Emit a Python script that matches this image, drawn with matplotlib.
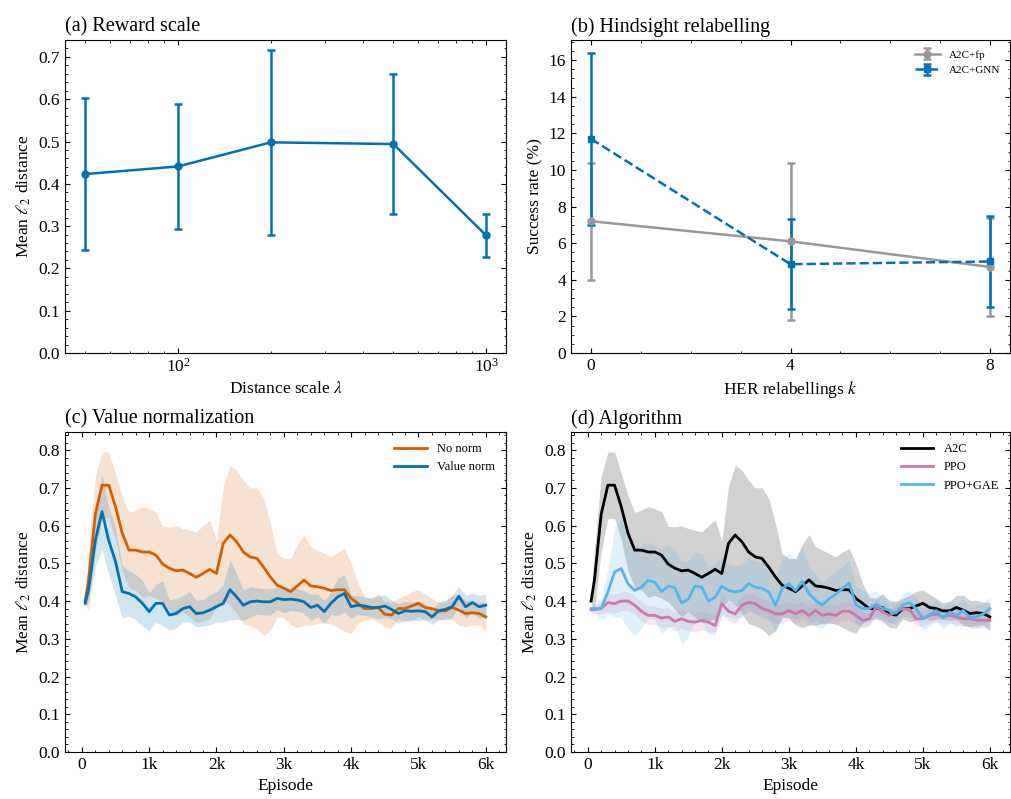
import matplotlib

matplotlib.use("Agg")
import matplotlib.pyplot as plt
import numpy as np
from matplotlib.ticker import AutoMinorLocator, FuncFormatter, MultipleLocator

plt.rcParams.update({
    "font.family": ["Liberation Serif", "DejaVu Serif"],
    "mathtext.fontset": "stix",
    "font.size": 12.5,
    "xtick.direction": "in",
    "ytick.direction": "in",
    "xtick.top": True,
    "ytick.right": True,
    "xtick.minor.visible": True,
    "ytick.minor.visible": True,
    "xtick.major.size": 3.5,
    "ytick.major.size": 3.5,
    "xtick.minor.size": 1.8,
    "ytick.minor.size": 1.8,
    "axes.linewidth": 0.8,
})

BLUE = "#0072B2"
ORANGE = "#D55E00"
PINK = "#CC79A7"
SKY = "#56B4E9"
GRAY = "#999999"

# (a) reward scale
lam = [50, 100, 200, 500, 1000]
lam_mean = [0.423, 0.441, 0.498, 0.494, 0.278]
lam_err = [0.180, 0.148, 0.218, 0.166, 0.050]

# (b) hindsight relabelling
her_k = [0, 4, 8]
fp_mean = [7.2, 6.1, 4.7]
fp_err = [3.2, 4.3, 2.7]
gnn_mean = [11.7, 4.85, 5.0]
gnn_err = [4.7, 2.45, 2.5]

# (c)/(d) learning curves, mean and std per 100 episodes
episodes = np.r_[50, np.arange(100, 6001, 100)]

no_norm_mean = [
    0.400, 0.456, 0.630, 0.707, 0.707, 0.650, 0.580, 0.535, 0.535, 0.530, 0.530,
    0.522, 0.498, 0.487, 0.480, 0.482, 0.473, 0.463, 0.473, 0.484, 0.473,
    0.553, 0.575, 0.557, 0.530, 0.517, 0.513, 0.490, 0.464, 0.442, 0.434,
    0.425, 0.440, 0.456, 0.440, 0.438, 0.434, 0.428, 0.430, 0.430, 0.407,
    0.394, 0.380, 0.380, 0.383, 0.365, 0.363, 0.380, 0.380, 0.387, 0.394,
    0.383, 0.380, 0.374, 0.374, 0.383, 0.376, 0.367, 0.369, 0.367, 0.358,
]
no_norm_std = [
    0.005, 0.080, 0.100, 0.088, 0.088, 0.088, 0.100, 0.100, 0.106, 0.120, 0.115,
    0.115, 0.100, 0.110, 0.120, 0.110, 0.115, 0.120, 0.127, 0.131, 0.087,
    0.150, 0.185, 0.190, 0.190, 0.183, 0.187, 0.182, 0.142, 0.084, 0.079,
    0.088, 0.110, 0.120, 0.104, 0.097, 0.092, 0.089, 0.100, 0.110, 0.093,
    0.053, 0.030, 0.027, 0.037, 0.035, 0.035, 0.027, 0.035, 0.038, 0.036,
    0.035, 0.027, 0.022, 0.025, 0.032, 0.040, 0.035, 0.033, 0.030, 0.038,
]
value_norm_mean = [
    0.394, 0.430, 0.560, 0.637, 0.560, 0.505, 0.425, 0.420, 0.411, 0.394, 0.372,
    0.394, 0.394, 0.363, 0.367, 0.380, 0.385, 0.367, 0.369, 0.376, 0.385,
    0.394, 0.430, 0.411, 0.389, 0.398, 0.400, 0.398, 0.398, 0.407, 0.404,
    0.405, 0.403, 0.398, 0.383, 0.389, 0.372, 0.394, 0.411, 0.420, 0.385,
    0.389, 0.387, 0.383, 0.383, 0.387, 0.378, 0.367, 0.374, 0.373, 0.374,
    0.372, 0.358, 0.374, 0.378, 0.385, 0.413, 0.385, 0.396, 0.385, 0.389,
]
value_norm_std = [
    0.010, 0.030, 0.070, 0.100, 0.090, 0.090, 0.070, 0.060, 0.060, 0.060, 0.050,
    0.050, 0.060, 0.040, 0.040, 0.035, 0.040, 0.035, 0.035, 0.040, 0.040,
    0.050, 0.080, 0.060, 0.040, 0.040, 0.035, 0.035, 0.035, 0.030, 0.035,
    0.030, 0.030, 0.030, 0.035, 0.030, 0.030, 0.030, 0.050, 0.050, 0.030,
    0.025, 0.025, 0.025, 0.030, 0.030, 0.025, 0.025, 0.025, 0.025, 0.025,
    0.020, 0.020, 0.025, 0.025, 0.030, 0.025, 0.030, 0.025, 0.030, 0.030,
]
a2c_mean = no_norm_mean
a2c_std = no_norm_std
ppo_mean = [
    0.377, 0.377, 0.380, 0.396, 0.393, 0.400, 0.400, 0.389, 0.373, 0.362, 0.362,
    0.355, 0.358, 0.346, 0.353, 0.346, 0.344, 0.349, 0.344, 0.335, 0.393,
    0.373, 0.366, 0.389, 0.397, 0.393, 0.380, 0.375, 0.366, 0.366, 0.375,
    0.366, 0.375, 0.362, 0.375, 0.362, 0.366, 0.362, 0.373, 0.373, 0.362,
    0.349, 0.353, 0.384, 0.371, 0.362, 0.371, 0.380, 0.378, 0.353, 0.353,
    0.362, 0.366, 0.358, 0.362, 0.358, 0.353, 0.353, 0.349, 0.349, 0.349,
]
ppo_std = [
    0.010, 0.010, 0.015, 0.025, 0.025, 0.025, 0.025, 0.025, 0.025, 0.025, 0.025,
    0.025, 0.025, 0.025, 0.025, 0.025, 0.025, 0.025, 0.025, 0.025, 0.025,
    0.025, 0.025, 0.025, 0.025, 0.025, 0.025, 0.025, 0.025, 0.025, 0.025,
    0.025, 0.025, 0.025, 0.025, 0.025, 0.025, 0.025, 0.025, 0.025, 0.025,
    0.020, 0.020, 0.020, 0.020, 0.020, 0.020, 0.020, 0.020, 0.020, 0.020,
    0.020, 0.020, 0.020, 0.020, 0.020, 0.020, 0.020, 0.020, 0.020, 0.020,
]
gae_mean = [
    0.380, 0.380, 0.380, 0.424, 0.477, 0.486, 0.446, 0.428, 0.437, 0.455, 0.450,
    0.425, 0.440, 0.435, 0.395, 0.405, 0.440, 0.437, 0.400, 0.410, 0.440,
    0.428, 0.424, 0.428, 0.446, 0.437, 0.434, 0.424, 0.389, 0.433, 0.446,
    0.428, 0.452, 0.420, 0.402, 0.389, 0.406, 0.418, 0.433, 0.448, 0.390,
    0.380, 0.380, 0.391, 0.381, 0.375, 0.368, 0.389, 0.396, 0.380, 0.353,
    0.364, 0.375, 0.355, 0.371, 0.362, 0.375, 0.357, 0.358, 0.366, 0.380,
]
gae_std = [
    0.010, 0.010, 0.030, 0.060, 0.120, 0.130, 0.120, 0.120, 0.110, 0.100, 0.100,
    0.110, 0.110, 0.100, 0.110, 0.100, 0.090, 0.090, 0.090, 0.090, 0.080,
    0.070, 0.070, 0.070, 0.070, 0.070, 0.070, 0.070, 0.070, 0.080, 0.080,
    0.080, 0.090, 0.070, 0.070, 0.060, 0.060, 0.060, 0.060, 0.060, 0.050,
    0.050, 0.040, 0.035, 0.030, 0.030, 0.030, 0.030, 0.030, 0.030, 0.030,
    0.030, 0.030, 0.030, 0.030, 0.030, 0.030, 0.030, 0.030, 0.030, 0.030,
]

W, H = 1011, 799
fig = plt.figure(figsize=(W / 100, H / 100), dpi=100)


def box(x0, y0, x1, y1):
    return [x0 / W, 1 - y1 / H, (x1 - x0) / W, (y1 - y0) / H]


ax_a = fig.add_axes(box(65, 40, 506, 353))
ax_b = fig.add_axes(box(571, 40, 1010, 353))
ax_c = fig.add_axes(box(65, 432, 506, 752))
ax_d = fig.add_axes(box(571, 432, 1010, 752))

# (a)
ax_a.errorbar(lam, lam_mean, yerr=lam_err, color=BLUE, marker="o", ms=5,
              lw=1.8, elinewidth=1.8, capsize=3, capthick=1.8)
ax_a.set_xscale("log")
ax_a.set_xlim(43, 1160)
ax_a.set_ylim(0, 0.74)
ax_a.yaxis.set_major_locator(MultipleLocator(0.1))
ax_a.yaxis.set_minor_locator(AutoMinorLocator())
ax_a.set_xlabel(r"Distance scale $\lambda$")
ax_a.set_ylabel(r"Mean $\ell_2$ distance")
ax_a.set_title("(a) Reward scale", loc="left", fontsize=14.5, pad=6)

# (b)
ax_b.errorbar(her_k, fp_mean, yerr=fp_err, color=GRAY, marker="o", ms=5,
              lw=1.8, elinewidth=1.8, capsize=3, capthick=1.8, label="A2C+fp")
ax_b.errorbar(her_k, gnn_mean, yerr=gnn_err, color=BLUE, marker="s", ms=5,
              lw=1.8, ls="--", elinewidth=1.8, capsize=3, capthick=1.8,
              label="A2C+GNN")
ax_b.set_xlim(-0.4, 8.4)
ax_b.set_ylim(0, 17.1)
ax_b.xaxis.set_major_locator(MultipleLocator(4))
ax_b.xaxis.set_minor_locator(MultipleLocator(1))
ax_b.yaxis.set_major_locator(MultipleLocator(2))
ax_b.yaxis.set_minor_locator(MultipleLocator(0.5))
ax_b.set_xlabel(r"HER relabellings $k$")
ax_b.set_ylabel("Success rate (%)")
ax_b.set_title("(b) Hindsight relabelling", loc="left", fontsize=14.5, pad=6)
ax_b.legend(loc="upper right", fontsize=8, frameon=False, handlelength=2.2)


def curve(ax, mean, std, color, label, fill=None):
    mean = np.asarray(mean)
    std = np.asarray(std)
    ax.fill_between(episodes, mean - std, mean + std, color=fill or color,
                    alpha=0.18, lw=0)
    ax.plot(episodes, mean, color=color, lw=2.0, label=label)


def curve_axes(ax, title):
    ax.set_xlim(-250, 6300)
    ax.set_ylim(0, 0.848)
    ax.xaxis.set_major_locator(MultipleLocator(1000))
    ax.xaxis.set_minor_locator(MultipleLocator(200))
    ax.xaxis.set_major_formatter(
        FuncFormatter(lambda v, _: "0" if v == 0 else f"{int(v // 1000)}k"))
    ax.yaxis.set_major_locator(MultipleLocator(0.1))
    ax.yaxis.set_minor_locator(AutoMinorLocator())
    ax.set_xlabel("Episode")
    ax.set_ylabel(r"Mean $\ell_2$ distance")
    ax.set_title(title, loc="left", fontsize=14.5, pad=6)
    ax.legend(loc="upper right", fontsize=9, frameon=False, handlelength=2.6)


# (c)
curve(ax_c, no_norm_mean, no_norm_std, ORANGE, "No norm")
curve(ax_c, value_norm_mean, value_norm_std, BLUE, "Value norm")
curve_axes(ax_c, "(c) Value normalization")

# (d)
curve(ax_d, a2c_mean, a2c_std, "black", "A2C")
curve(ax_d, ppo_mean, ppo_std, PINK, "PPO")
curve(ax_d, gae_mean, gae_std, SKY, "PPO+GAE")
curve_axes(ax_d, "(d) Algorithm")

fig.savefig("out.png", dpi=100)
